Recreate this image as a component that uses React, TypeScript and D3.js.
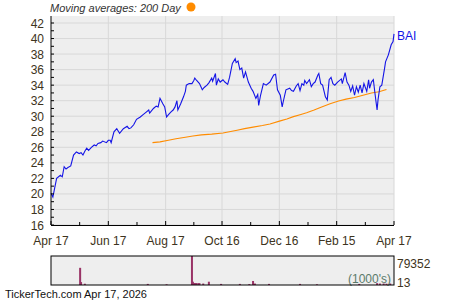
import React from "react";
import * as d3 from "d3";

const priceDates = [
  "2025-04-17","2025-04-19","2025-04-21","2025-04-23","2025-04-27","2025-04-29","2025-05-01","2025-05-03","2025-05-05","2025-05-08",
  "2025-05-11","2025-05-14","2025-05-17","2025-05-19","2025-05-21","2025-05-23","2025-05-25","2025-05-27","2025-05-30","2025-06-02",
  "2025-06-04","2025-06-06","2025-06-09","2025-06-11","2025-06-15","2025-06-17","2025-06-19","2025-06-20","2025-06-23","2025-06-26",
  "2025-06-27","2025-06-29","2025-07-03","2025-07-07","2025-07-09","2025-07-11","2025-07-14","2025-07-17","2025-07-21","2025-07-24",
  "2025-07-27","2025-07-30","2025-07-31","2025-08-04","2025-08-07","2025-08-09","2025-08-11","2025-08-14","2025-08-16","2025-08-18",
  "2025-08-20","2025-08-23","2025-08-25","2025-08-27","2025-08-29","2025-08-30","2025-09-02","2025-09-05","2025-09-07","2025-09-08",
  "2025-09-11","2025-09-14","2025-09-16","2025-09-17","2025-09-19","2025-09-22","2025-09-25","2025-09-27","2025-09-30","2025-10-02",
  "2025-10-05","2025-10-06","2025-10-09","2025-10-10","2025-10-12","2025-10-14","2025-10-17","2025-10-19","2025-10-22","2025-10-24",
  "2025-10-27","2025-10-30","2025-10-31","2025-11-02","2025-11-04","2025-11-06","2025-11-08","2025-11-10","2025-11-13","2025-11-16",
  "2025-11-18","2025-11-21","2025-11-23","2025-11-24","2025-11-26","2025-11-29","2025-12-02","2025-12-06","2025-12-10","2025-12-12",
  "2025-12-14","2025-12-17","2025-12-19","2025-12-20","2025-12-23","2025-12-27","2025-12-29","2025-12-31","2026-01-03","2026-01-05",
  "2026-01-07","2026-01-09","2026-01-11","2026-01-12","2026-01-14","2026-01-17","2026-01-19","2026-01-21","2026-01-23","2026-01-26",
  "2026-01-27","2026-01-29","2026-01-31","2026-02-03","2026-02-05","2026-02-07","2026-02-09","2026-02-11","2026-02-13","2026-02-16",
  "2026-02-20","2026-02-21","2026-02-24","2026-02-26","2026-02-28","2026-03-02","2026-03-04","2026-03-06","2026-03-08","2026-03-10",
  "2026-03-12","2026-03-14","2026-03-16","2026-03-19","2026-03-21","2026-03-22","2026-03-24","2026-03-26","2026-03-28","2026-03-30",
  "2026-03-31","2026-04-02","2026-04-04","2026-04-07","2026-04-08","2026-04-11","2026-04-14","2026-04-16","2026-04-17"
];
const priceValues = [
  20.1,19.6,20.8,22.0,22.4,22.2,23.5,23.2,23.4,23.6,
  25.0,25.4,25.2,25.3,25.0,25.5,25.9,25.6,26.0,26.3,
  26.2,26.5,26.6,26.8,26.6,26.9,26.9,26.6,28.0,28.4,
  28.2,27.8,28.4,28.7,28.4,28.5,28.9,29.6,29.9,30.2,
  30.5,30.8,30.4,31.0,31.3,31.2,32.3,31.6,31.2,29.9,
  30.2,30.6,30.8,31.2,32.0,30.8,31.6,32.5,33.2,34.0,
  34.2,34.2,34.6,34.9,34.6,34.2,33.4,33.7,34.0,34.3,
  34.9,34.5,35.5,34.0,34.8,34.4,34.7,34.4,34.1,35.0,
  36.8,37.4,36.9,37.1,36.0,36.2,34.9,35.7,34.4,33.6,
  33.2,32.3,32.8,31.4,32.7,34.2,34.0,34.4,35.3,35.4,
  33.4,32.7,31.2,31.8,33.4,33.6,33.3,33.2,33.9,34.2,
  33.3,34.2,34.0,34.6,34.2,34.7,33.8,34.2,34.4,35.3,
  35.5,34.2,34.0,32.5,32.1,34.7,35.0,34.2,34.0,34.4,
  34.8,34.2,35.6,34.4,34.0,33.2,33.9,32.7,33.8,33.1,
  34.0,33.0,34.2,33.2,34.7,33.6,34.4,34.7,32.7,30.8,
  32.1,33.8,34.0,36.2,37.0,37.9,39.2,39.6,40.6
];

const maDates = [
  "2025-08-03","2025-08-11","2025-08-20","2025-08-28","2025-09-07","2025-09-15","2025-09-24","2025-10-05","2025-10-17","2025-11-01",
  "2025-11-09","2025-11-18","2025-11-28","2025-12-06","2025-12-17","2025-12-24","2025-12-31","2026-01-07","2026-01-14","2026-01-22",
  "2026-01-30","2026-02-08","2026-02-17","2026-02-25","2026-03-06","2026-03-15","2026-03-24","2026-04-01","2026-04-09"
];
const maValues = [
  26.6,26.7,26.9,27.1,27.3,27.45,27.6,27.7,27.85,28.2,
  28.4,28.6,28.8,29.0,29.4,29.65,29.95,30.2,30.45,30.8,
  31.2,31.6,31.95,32.2,32.4,32.7,33.0,33.15,33.45
];

const volumeDates = [
  "2025-05-18","2025-05-19","2025-05-23","2025-07-29","2025-08-18","2025-09-14","2025-09-15","2025-09-16","2025-09-17","2025-09-18",
  "2025-09-19","2025-09-21","2025-09-22","2025-09-26","2025-10-02","2025-10-15","2025-11-04","2025-11-14","2025-11-18","2025-11-20",
  "2025-12-05","2026-01-07","2026-01-25","2026-03-11","2026-03-30","2026-04-02","2026-04-06","2026-04-09","2026-04-13"
];
const volumeValues = [
  47000,8000,3500,3000,2000,79352,9000,5000,5000,5000,
  5000,5000,5000,4000,9000,3000,3000,2500,11000,4000,
  3000,3000,2000,3000,5000,4000,4000,3500,4000
];

const majorTickDates = ["2025-04-17","2025-06-17","2025-08-17","2025-10-16","2025-12-16","2026-02-15","2026-04-17"];
const majorTickLabels = ["Apr 17","Jun 17","Aug 17","Oct 16","Dec 16","Feb 15","Apr 17"];
const yTickValues = [16,18,20,22,24,26,28,30,32,34,36,38,40,42];
const volumeMax = 79352;
const volumeMinLabel = "13";

const parse = d3.timeParse("%Y-%m-%d");

export default function App() {
  const L = 51, R = 394, T = 16, B = 225;
  const VT = 256, VB = 285;
  const x = d3.scaleTime().domain([parse("2025-04-17")!, parse("2026-04-17")!]).range([L, R]);
  const y = d3.scaleLinear().domain([16, 42]).range([B, 23]);
  const yAll = d3.range(16, 43, 1);
  const v = d3.scaleLinear().domain([0, volumeMax]).range([VB, VT]);

  const priceData = priceDates.map((d, i) => ({ d: parse(d)!, v: priceValues[i] }));
  const maData = maDates.map((d, i) => ({ d: parse(d)!, v: maValues[i] }));
  const line = d3.line<{ d: Date; v: number }>().x(p => x(p.d)).y(p => y(p.v));

  const majors = majorTickDates.map(d => parse(d)!);
  const minors = majors.slice(0, -1).map((d, i) => new Date((d.getTime() + majors[i + 1].getTime()) / 2));
  const textColor = "#3d3320";
  const font = "'Liberation Sans', Arial, sans-serif";

  return (
    <svg width={450} height={300} style={{ position: "absolute", left: 0, top: 0 }} fontFamily={font}>
      <rect x={0} y={0} width={450} height={300} fill="#ffffff" />
      <text x={50} y={12} fontSize={11} fontStyle="italic" fill="#333333">Moving averages: 200 Day</text>
      <circle cx={191} cy={7} r={4.5} fill="#ff8c00" />

      <rect x={L} y={T} width={R - L} height={B - T} fill="#eeeeee" />
      {yTickValues.map(t => (
        <line key={"gy" + t} x1={L} x2={R} y1={y(t)} y2={y(t)} stroke="#d8d8d8" strokeWidth={1} />
      ))}
      {majors.slice(1).map((d, i) => (
        <line key={"gx" + i} x1={x(d)} x2={x(d)} y1={T} y2={B} stroke="#d8d8d8" strokeWidth={1} />
      ))}

      <path d={line(maData)!} fill="none" stroke="#ff8c00" strokeWidth={1.1} />
      <path d={line(priceData)!} fill="none" stroke="#1414e6" strokeWidth={1.1} />

      <line x1={L} x2={L} y1={T} y2={B} stroke="#000" strokeWidth={1} />
      <line x1={L} x2={R} y1={B + 0.5} y2={B + 0.5} stroke="#000" strokeWidth={1} />
      {yAll.map(t => (
        <line key={"ty" + t} x1={L} x2={L + 3} y1={y(t)} y2={y(t)} stroke="#000" strokeWidth={1} />
      ))}
      {yTickValues.map(t => (
        <text key={"ly" + t} x={44} y={y(t) + 4.5} fontSize={12} textAnchor="end" fill={textColor}>{t}</text>
      ))}
      {majors.map((d, i) => (
        <line key={"tx" + i} x1={x(d)} x2={x(d)} y1={B} y2={B - 4} stroke="#000" strokeWidth={1} />
      ))}
      {minors.map((d, i) => (
        <line key={"tm" + i} x1={x(d)} x2={x(d)} y1={B} y2={B - 3} stroke="#000" strokeWidth={1} />
      ))}
      {majors.map((d, i) => (
        <text key={"lx" + i} x={x(d)} y={245} fontSize={12} textAnchor="middle" fill={textColor}>{majorTickLabels[i]}</text>
      ))}
      <text x={397} y={40} fontSize={12} fill="#1414e6">BAI</text>

      <rect x={L} y={VT} width={R - L} height={VB - VT} fill="#eeeeee" />
      {volumeDates.map((d, i) => (
        <rect key={"v" + i} x={x(parse(d)!) - 1} y={v(volumeValues[i])} width={2} height={VB - v(volumeValues[i])} fill="#993366" />
      ))}
      <text x={391} y={283} fontSize={12} textAnchor="end" fill="#5a7a6a">(1000's)</text>
      <rect x={L} y={VT} width={R - L} height={VB - VT} fill="none" stroke="#000" strokeWidth={1} />
      <text x={397} y={268} fontSize={12} fill={textColor}>{volumeMax}</text>
      <text x={397} y={287} fontSize={12} fill={textColor}>{volumeMinLabel}</text>

      <text x={5} y={298} fontSize={11} fill="#111">TickerTech.com</text>
      <text x={84} y={298} fontSize={11} fill="#111">Apr 17, 2026</text>
    </svg>
  );
}
